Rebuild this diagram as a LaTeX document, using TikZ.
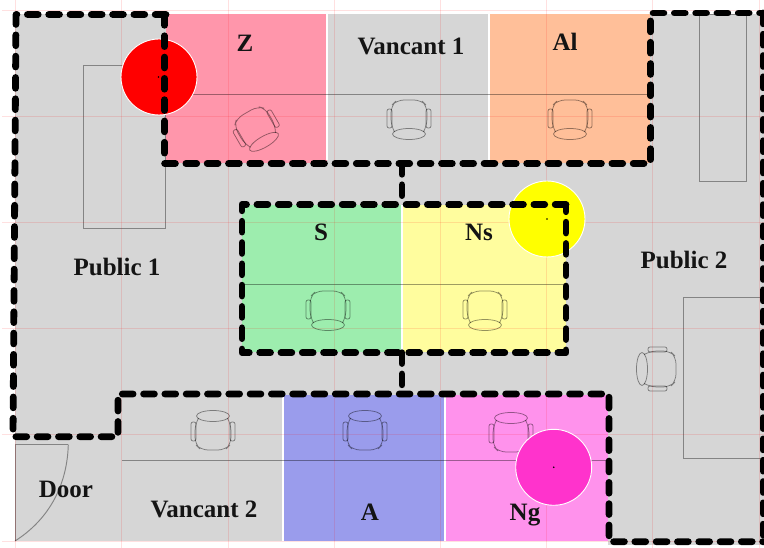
\documentclass[tikz,border=0pt]{standalone}
\usepackage{fontspec}
\setmainfont{Liberation Serif}
\definecolor{floorgray}{HTML}{D6D6D6}
\definecolor{zpink}{HTML}{FF96AB}
\definecolor{alorange}{HTML}{FFBF99}
\definecolor{sgreen}{HTML}{9DEDAE}
\definecolor{nsyellow}{HTML}{FFFD9E}
\definecolor{ablue}{HTML}{9A9CEC}
\definecolor{ngpink}{HTML}{FF92EC}
\definecolor{ngdot}{HTML}{FF33CC}
\definecolor{pureyellow}{RGB}{255,255,0}
\definecolor{purered}{RGB}{255,0,0}
\tikzset{
  x=1pt,y=-1pt,
  wall/.style={line width=6.8pt,line cap=round,line join=round,dash pattern=on 10.8pt off 10.5pt,black},
  room/.style={fill=#1},
  divider/.style={draw=white,line width=1.4pt},
  furn/.style={draw=black,draw opacity=.38,line width=.95pt},
  chairline/.style={draw=black,draw opacity=.42,line width=.75pt},
  gridline/.style={draw=red,draw opacity=.12,line width=.9pt},
  label/.style={font=\fontsize{25}{28}\selectfont\bfseries,text=black!92,inner sep=0pt},
  sensor/.style={circle,draw=white,line width=.9pt,minimum size=76pt,inner sep=0pt,fill=#1},
  sensordot/.style={circle,fill=black,minimum size=1.8pt,inner sep=0pt},
  chair/.pic={
    \draw[chairline,rounded corners=7pt] (-15,13) -- (-18,8) -- (-18,-12) -- (-12,-18) -- (12,-18) -- (18,-12) -- (18,8) -- (15,13);
    \draw[chairline,rounded corners=2pt] (-22,-9) rectangle (-17,10);
    \draw[chairline,rounded corners=2pt] (17,-9) rectangle (22,10);
    \draw[chairline] (0,16) ellipse [x radius=16.5,y radius=5.5];
  }
}
\begin{document}
\begin{tikzpicture}
\useasboundingbox (0,0) rectangle (764,548);
\fill[white] (0,0) rectangle (764,548);
% floor
\fill[floorgray] (15,14) rectangle (764,541);
\fill[floorgray] (608,541) rectangle (764,545);
% rooms
\path[room=zpink] (166,14) rectangle (327,163);
\path[room=alorange] (489,14) rectangle (650,163);
\path[room=sgreen] (242,205) rectangle (402,352);
\path[room=nsyellow] (402,205) rectangle (566,352);
\path[room=ablue] (283,395) rectangle (445,541);
\path[room=ngpink] (445,395) rectangle (608,541);
\draw[divider] (327,14) -- (327,160);
\draw[divider] (489,14) -- (489,160);
\draw[divider] (402,205) -- (402,352);
\draw[divider] (283,395) -- (283,541);
\draw[divider] (445,395) -- (445,541);
\draw[draw=white,line width=.8pt] (166,13.5) -- (650,13.5);
% desk edges
\draw[furn] (166,94.5) -- (650,94.5);
\draw[furn] (242,284) -- (566,284);
\draw[furn] (122,460.5) -- (608,460.5);
\draw[furn] (83,65) rectangle (165,228);
\draw[furn] (699,14) rectangle (746,181);
\draw[furn] (764,297) -- (683,297) -- (683,458) -- (764,458);
% door
\draw[furn] (15,444.7) -- (68.3,444.7);
\draw[furn] (15,444.7) -- (15,541);
\draw[furn] (68.3,444.7) .. controls (67,490) and (45,522) .. (15,541);
% chairs
\pic[rotate=30] at (256,128) {chair};
\pic at (409,118) {chair};
\pic at (570,118) {chair};
\pic at (328,309) {chair};
\pic at (485,309) {chair};
\pic[rotate=180] at (213,432) {chair};
\pic[rotate=180] at (365,432) {chair};
\pic[rotate=180] at (511,434) {chair};
\pic[rotate=-90] at (658,369) {chair};
% grid
\foreach \gx in {15.3,121.7,228,334.3,440.5,546.7,652.7,759}
  \draw[gridline] (\gx,0) -- (\gx,548);
\foreach \gy in {10,116,222,328.3,434.7,541}
  \draw[gridline] (2,\gy) -- (764,\gy);
% sensors
\node[sensor=purered] (redsensor) at (159,77) {};
\node[sensor=pureyellow] (yellowsensor) at (547,219) {};
\node[sensor=ngdot] (pinksensor) at (553.7,467.3) {};
\node[sensordot] (reddot) at (158.5,77) {};
\node[sensordot] (yellowdot) at (547,219) {};
\node[sensordot] (pinkdot) at (553.7,467.3) {};
% labels
\node[label] (zlabel) at (245,43) {Z};
\node[label] (v1label) at (411,46) {Vancant 1};
\node[label] (allabel) at (565,42) {Al};
\node[label] (slabel) at (321,232) {S};
\node[label] (nslabel) at (479,232) {Ns};
\node[label] (p1label) at (117,267) {Public 1};
\node[label] (p2label) at (684,260) {Public 2};
\node[label] (doorlabel) at (66,489) {Door};
\node[label] (v2label) at (204,509) {Vancant 2};
\node[label] (alabel) at (370,512) {A};
\node[label] (nglabel) at (525,515) {Ng};
% walls
\coordinate (topconn) at (402,163.5);
\coordinate (midtop) at (402,204.5);
\coordinate (midbot) at (402,352.7);
\coordinate (botconn) at (402,394);
\draw[wall] (166,14.5) -- (16,14.5) -- (13,436.7) -- (118,436.7) -- (118,394) -- (609,394) -- (609,541.7) -- (764,541.7);
\draw[wall] (164.5,14.5) -- (164.5,163.5) -- (650.6,163.5) -- (650.6,13) -- (764,13);
\draw[wall] (763,13) -- (763,541.7);
\draw[wall] (566,204.5) -- (242,204.5) -- (242,352.7) -- (566,352.7) -- cycle;
\draw[wall] (topconn) -- (midtop);
\draw[wall] (midbot) -- (botconn);
\end{tikzpicture}
\end{document}
